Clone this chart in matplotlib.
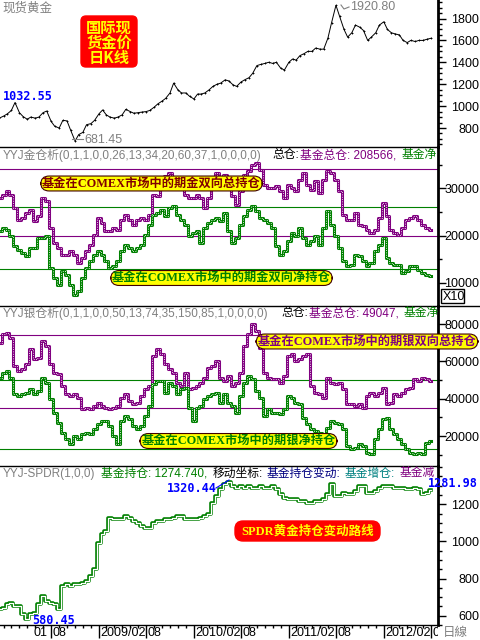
import numpy as np
import pandas as pd
import matplotlib
matplotlib.use("Agg")
import matplotlib.pyplot as plt
import matplotlib.dates as mdates
import matplotlib.transforms as mtransforms
from matplotlib.patches import FancyBboxPatch, Rectangle
from matplotlib.lines import Line2D
from matplotlib.ticker import MultipleLocator, FixedLocator

plt.rcParams['font.family'] = ['Liberation Sans', 'Noto Sans CJK SC', 'DejaVu Sans']
plt.rcParams['axes.unicode_minus'] = False

# ---------------- data ----------------
dates = pd.date_range('2008-01-15', periods=110, freq='SMS')

gold_price = [890, 910, 930, 960, 1032.55, 940, 905, 880, 900, 890,
              900, 940, 955, 860, 815, 800, 870, 865, 780, 681.45,
              740, 760, 830, 840, 870, 930, 965, 920, 900, 890,
              900, 920, 970, 950, 935, 940, 945, 950, 960, 990,
              1020, 1045, 1070, 1120, 1210, 1150, 1120, 1120, 1090, 1065,
              1110, 1110, 1120, 1150, 1180, 1200, 1210, 1240, 1230, 1195,
              1180, 1220, 1240, 1260, 1300, 1370, 1380, 1390, 1400, 1390,
              1400, 1345, 1330, 1400, 1430, 1420, 1460, 1480, 1500, 1500,
              1530, 1520, 1520, 1620, 1760, 1920.80, 1820, 1700, 1630, 1670,
              1740, 1720, 1690, 1600, 1630, 1670, 1740, 1770, 1700, 1670,
              1660, 1650, 1600, 1580, 1600, 1590, 1600, 1600, 1610, 1620]

gold_total = [27950, 28650, 29360, 28650, 25830, 23350, 23710, 24770, 25470, 23000,
              24060, 27950, 27240, 21590, 18410, 17350, 15940, 15940, 16650, 15940,
              14170, 15230, 16650, 18060, 20180, 23710, 22650, 20880, 20880, 21590,
              21240, 23350, 24410, 23350, 22300, 23350, 23710, 23350, 24410, 28650,
              28300, 32180, 32540, 33240, 31830, 30770, 32180, 28650, 27950, 27950,
              28650, 27950, 25830, 27950, 31830, 33240, 30420, 32890, 30770, 28300,
              26530, 29360, 32890, 33600, 35010, 35360, 33950, 30770, 30060, 30060,
              30420, 29360, 27950, 30770, 30060, 29360, 31830, 33240, 30770, 29710,
              31480, 29000, 31830, 33600, 33240, 31830, 29360, 24410, 23350, 23350,
              24770, 22300, 21940, 21240, 20530, 21240, 23710, 26890, 24060, 21240,
              20530, 20180, 21590, 23350, 23710, 24060, 23350, 22300, 21590, 21240]

gold_net = [20880, 21590, 21240, 19820, 17700, 17000, 16290, 15580, 17350, 17350,
            19470, 19470, 19820, 13110, 10990, 9580, 12410, 11700, 9580, 7460,
            8170, 10990, 13110, 14530, 15940, 16650, 15940, 14530, 13110, 13470,
            14530, 16650, 18060, 17350, 16650, 17350, 18060, 20180, 22300, 24410,
            24770, 25470, 24060, 25830, 26180, 24410, 23350, 22300, 19820, 20530,
            20880, 18410, 21590, 22650, 23350, 23710, 23000, 24770, 20880, 18410,
            19470, 22300, 24060, 25470, 26180, 25120, 23710, 23350, 22650, 21590,
            17700, 15940, 16650, 18760, 20530, 19820, 21590, 19470, 18060, 18760,
            19820, 18060, 21590, 25120, 22300, 19820, 17350, 14530, 13470, 13820,
            15940, 15580, 14530, 13470, 14170, 16650, 18060, 19470, 15230, 14170,
            13820, 13820, 12050, 12410, 13470, 13470, 12760, 12050, 11700, 11350]

silver_total = [69970, 74460, 75360, 72680, 57500, 54820, 55710, 58390, 66430, 61070,
                61960, 70890, 68210, 58390, 53930, 53040, 46790, 42320, 41430, 42320,
                40540, 34290, 35180, 34290, 36070, 37860, 36070, 35180, 34290, 35180,
                36070, 40540, 42320, 38750, 36960, 37860, 41430, 45000, 46790, 62860,
                66430, 63750, 58390, 55710, 53930, 48570, 46790, 53930, 45000, 45890,
                46790, 48570, 51250, 56610, 57500, 60180, 51250, 49460, 52140, 46790,
                48570, 53930, 68210, 74460, 79820, 76250, 67320, 53930, 51250, 50360,
                50360, 48570, 52140, 62860, 63750, 60180, 61070, 62860, 63750, 46790,
                43210, 42320, 40540, 51250, 48570, 47680, 48570, 45000, 36960, 36960,
                36070, 36960, 35180, 41430, 43210, 41430, 43210, 45890, 36960, 37860,
                42320, 41430, 43210, 45000, 45890, 50360, 49460, 51250, 50360, 49460]

silver_net = [51250, 53930, 54820, 51250, 42320, 41430, 42320, 43210, 45000, 42320,
              44110, 51250, 48570, 39640, 32500, 27140, 21790, 18220, 15540, 20000,
              18220, 20890, 21790, 20890, 23570, 26250, 28040, 28040, 25360, 20000,
              15540, 28040, 30720, 28930, 25360, 23570, 25360, 30720, 36070, 47680,
              49460, 49460, 43210, 48570, 46790, 42320, 45000, 45890, 35180, 28040,
              35180, 36070, 39640, 41430, 42320, 43210, 37860, 42320, 37860, 36070,
              32500, 41430, 48570, 52140, 50360, 44110, 40540, 30720, 34290, 32500,
              32500, 31610, 34290, 41430, 40540, 37860, 36960, 29820, 26250, 23570,
              22680, 21790, 20890, 24470, 28040, 27140, 26250, 23570, 14640, 12860,
              13750, 15540, 14640, 11070, 10180, 18220, 23570, 28930, 29820, 23570,
              20890, 18220, 15540, 12860, 11070, 10180, 11070, 10180, 16430, 17320]

spdr = [638, 643, 661, 670, 652, 652, 607, 580.45, 607, 616,
        661, 706, 679, 670, 661, 634, 760, 769, 760, 769,
        769, 778, 787, 814, 850, 993, 1038, 1056, 1128, 1119,
        1119, 1119, 1137, 1128, 1110, 1101, 1083, 1074, 1074, 1101,
        1110, 1110, 1119, 1119, 1128, 1137, 1137, 1119, 1119, 1119,
        1119, 1128, 1137, 1146, 1209, 1245, 1281, 1312, 1320.44, 1299,
        1290, 1299, 1290, 1299, 1290, 1290, 1299, 1290, 1290, 1299,
        1281, 1254, 1236, 1227, 1227, 1227, 1218, 1218, 1209, 1209,
        1218, 1218, 1227, 1254, 1308, 1245, 1245, 1263, 1254, 1254,
        1272, 1299, 1299, 1263, 1263, 1272, 1290, 1299, 1299, 1299,
        1290, 1290, 1290, 1281, 1281, 1290, 1281, 1254, 1263, 1274.74]

gold_total_levels = [34000, 20000]
gold_net_levels = [26000, 13000]
silver_total_levels = [74000, 35000]
silver_net_levels = [50000, 13000]

gold_ticks = [800, 1000, 1200, 1400, 1600, 1800]
goldpos_ticks = [10000, 20000, 30000]
silverpos_ticks = [20000, 40000, 60000, 80000]
spdr_ticks = [600, 800, 1000, 1200]

date_tick_dates = ['2008-08-01', '2009-02-01', '2009-08-01', '2010-02-01', '2010-08-01',
                   '2011-02-01', '2011-08-01', '2012-02-01', '2012-08-01']
date_tick_labels = ['08', '2009/02', '08', '2010/02', '08', '2011/02', '08', '2012/02', '0']

# ---------------- layout ----------------
W, H = 480, 640
PR = 438  # right edge of plotting area (px)
fig = plt.figure(figsize=(4.8, 6.4), dpi=100)
T = mtransforms.Affine2D().scale(1 / W, -1 / H).translate(0, 1) + fig.transFigure
clipbox = mtransforms.TransformedBbox(mtransforms.Bbox([[0, 0], [PR / W, 1]]), fig.transFigure)

PURPLE = '#800080'
GREEN = '#008000'
GREY = '#808080'

xlo = mdates.date2num(pd.Timestamp('2009-02-01')) - 99 / 95 * 365.25
xhi = xlo + PR / 95 * 365.25
xd = mdates.date2num(dates)


def ptext(x, y, s, clip=False, **kw):
    kw.setdefault('va', 'center')
    t = fig.text(x, y, s, transform=T, **kw)
    if clip:
        t.set_clip_box(clipbox)
        t.set_clip_on(True)
    return t


def make_ax(y0, y1, ylim, ticks, minor, top=True):
    ax = fig.add_axes([0, 1 - y1 / H, PR / W, (y1 - y0) / H])
    ax.set_xlim(xlo, xhi)
    ax.set_ylim(*ylim)
    ax.patch.set_alpha(0)
    ax.spines['left'].set_visible(False)
    ax.spines['bottom'].set_visible(False)
    ax.spines['right'].set_linewidth(2)
    ax.spines['top'].set_linewidth(1)
    ax.spines['top'].set_visible(top)
    ax.yaxis.tick_right()
    ax.yaxis.set_major_locator(FixedLocator(ticks))
    ax.yaxis.set_minor_locator(MultipleLocator(minor))
    ax.tick_params(axis='y', which='major', direction='out', length=6, width=1,
                   labelsize=9, pad=23.8, colors='black')
    ax.tick_params(axis='y', which='minor', direction='out', length=3, width=1)
    ax.tick_params(axis='x', which='both', bottom=False, top=False, labelbottom=False)
    for lab in ax.get_yticklabels():
        lab.set_ha('right')
    return ax


ax1 = make_ax(0, 147, (626.5, 1969), gold_ticks, 50, top=False)
ax2 = make_ax(147, 306, (5063, 38751), goldpos_ticks, 5000)
ax3 = make_ax(306, 466, (3929, 89643), silverpos_ticks, 10000)
ax4 = make_ax(466, 625, (549.9, 1406.3), spdr_ticks, 50)
ax4.spines['bottom'].set_visible(True)
ax4.spines['bottom'].set_linewidth(1)

# ---------------- panel 1: gold price ----------------
ax1.plot(xd, gold_price, color='black', lw=0.7, marker='+', ms=2, mew=0.6)
ptext(2, 8, '现货黄金', color=GREY, fontsize=9)
box = FancyBboxPatch((81, 16), 56, 51, boxstyle='round,pad=0,rounding_size=5',
                     transform=T, fc='#ff0000', ec='#ff0000', zorder=5)
fig.patches.append(box)
for yy, s in [(27.5, '国际现'), (42.5, '货金价'), (57.5, '日K线')]:
    ptext(109, yy, s, color='#ffff00', fontsize=11, fontweight='bold', ha='center',
          family=['Noto Sans CJK SC'], zorder=6)
mono = dict(family=['DejaVu Sans Mono'], fontweight='bold', color='#0000ff', fontsize=8.5)
ptext(3, 96, '1032.55', **mono)
ptext(84, 140, '681.45', color=GREY, fontsize=9)
fig.add_artist(Line2D([72, 83], [139, 139], transform=T, color=GREY, lw=0.8))
ptext(350, 7, '1920.80', color=GREY, fontsize=9)
fig.add_artist(Line2D([341, 344, 349], [5, 9, 7], transform=T, color=GREY, lw=0.8))


# ---------------- helpers for position panels ----------------
def pos_line(ax, y, color):
    ax.plot(xd, y, color=color, lw=2.2, drawstyle='steps-mid', zorder=3)
    ax.plot(xd, y, color='white', lw=0.7, drawstyle='steps-mid', zorder=4,
            dashes=(0.8, 1.6))


def yellow_label(cx, cy, s, color):
    ptext(cx, cy, s, color=color, fontsize=8.8, fontweight='bold', ha='center',
          family=['Liberation Serif', 'Noto Sans CJK SC'], zorder=10,
          bbox=dict(boxstyle='round,pad=0.12,rounding_size=0.7', fc='#ffff00',
                    ec='#400000', lw=0.8))


# ---------------- panel 2: gold positions ----------------
for lv in gold_total_levels:
    ax2.axhline(lv, color=PURPLE, lw=0.8, zorder=2)
for lv in gold_net_levels:
    ax2.axhline(lv, color=GREEN, lw=0.8, zorder=2)
pos_line(ax2, gold_total, PURPLE)
pos_line(ax2, gold_net, GREEN)
ptext(3, 155, 'YYJ金仓析(0,1,1,0,0,26,13,34,20,60,37,1,0,0,0,0)', color=GREY, fontsize=8.5, clip=True)
ptext(272, 155, '总仓:', color='black', fontsize=8.5, clip=True)
ptext(300, 155, '基金总仓: 208566,', color=PURPLE, fontsize=8.5, clip=True)
ptext(402, 155, '基金净', color=GREEN, fontsize=8.5, clip=True)
yellow_label(151.5, 183.5, '基金在COMEX市场中的期金双向总持仓', '#800000')
yellow_label(221.5, 278, '基金在COMEX市场中的期金双向净持仓', GREEN)
fig.patches.append(Rectangle((441, 289), 23, 14, transform=T, fc='white', ec='black', lw=1))
ptext(443, 296.5, 'X10', color='black', fontsize=9)
fig.add_artist(Line2D([PR, W], [306, 306], transform=T, color='black', lw=1))

# ---------------- panel 3: silver positions ----------------
for lv in silver_total_levels:
    ax3.axhline(lv, color=PURPLE, lw=0.8, zorder=2)
for lv in silver_net_levels:
    ax3.axhline(lv, color=GREEN, lw=0.8, zorder=2)
pos_line(ax3, silver_total, PURPLE)
pos_line(ax3, silver_net, GREEN)
ptext(3, 313, 'YYJ银仓析(0,1,1,0,0,50,13,74,35,150,85,1,0,0,0,0)', color=GREY, fontsize=8.5, clip=True)
ptext(281, 313, '总仓:', color='black', fontsize=8.5, clip=True)
ptext(309, 313, '基金总仓: 49047,', color=PURPLE, fontsize=8.5, clip=True)
ptext(404, 313, '基金净', color=GREEN, fontsize=8.5, clip=True)
yellow_label(367, 341.5, '基金在COMEX市场中的期银双向总持仓', PURPLE)
yellow_label(238.5, 441, '基金在COMEX市场中的期银净持仓', GREEN)

# ---------------- panel 4: SPDR ----------------
ax4.plot(xd, spdr, color=GREEN, lw=2.6, drawstyle='steps-mid', zorder=3)
ax4.plot(xd, spdr, color='white', lw=0.9, drawstyle='steps-mid', zorder=4)
ptext(3, 474, 'YYJ-SPDR(1,0,0)', color=GREY, fontsize=8.5, clip=True)
ptext(101, 474, '基金持仓: 1274.740,', color=GREEN, fontsize=8.5, clip=True)
ptext(213, 474, '移动坐标:', color='black', fontsize=8.5, clip=True)
ptext(267, 474, '基金持仓变动:', color='#000080', fontsize=8.5, clip=True)
ptext(345, 474, '基金增仓:', color='#008080', fontsize=8.5, clip=True)
ptext(400, 473, '基金减', color=PURPLE, fontsize=8.5, clip=True)
ptext(167, 489, '1320.44', **mono)
fig.add_artist(Line2D([216, 229], [488, 480], transform=T, color='#0000ff', lw=0.8))
ptext(428, 483.5, '1281.98', zorder=12, **mono)
ptext(32, 620.5, '580.45', **mono)
box2 = FancyBboxPatch((235, 521), 145, 20, boxstyle='round,pad=0,rounding_size=8',
                      transform=T, fc='#ff0000', ec='#ff0000', zorder=5)
fig.patches.append(box2)
ptext(307.5, 531, 'SPDR黄金持仓变动路线', color='#ffff00', fontsize=9, fontweight='bold',
      ha='center', family=['Liberation Serif', 'Noto Sans CJK SC'], zorder=6)

# ---------------- date axis ----------------
ax4.xaxis.set_minor_locator(mdates.MonthLocator())
ax4.xaxis.set_major_locator(FixedLocator(mdates.date2num(pd.to_datetime(date_tick_dates))))
ax4.tick_params(axis='x', which='major', bottom=True, direction='out', length=9.5, width=1,
                labelbottom=False)
ax4.tick_params(axis='x', which='minor', bottom=True, direction='out', length=2.2, width=1)
for d, lab in zip(date_tick_dates, date_tick_labels):
    px = (mdates.date2num(pd.Timestamp(d)) - xlo) / (xhi - xlo) * PR
    ptext(px + 1.5, 633, lab, color='black', fontsize=9, clip=True)
ptext(33, 633, '01', color='black', fontsize=9)
ptext(443, 633, '日線', color=GREY, fontsize=9)

fig.savefig('out.png', dpi=100)
